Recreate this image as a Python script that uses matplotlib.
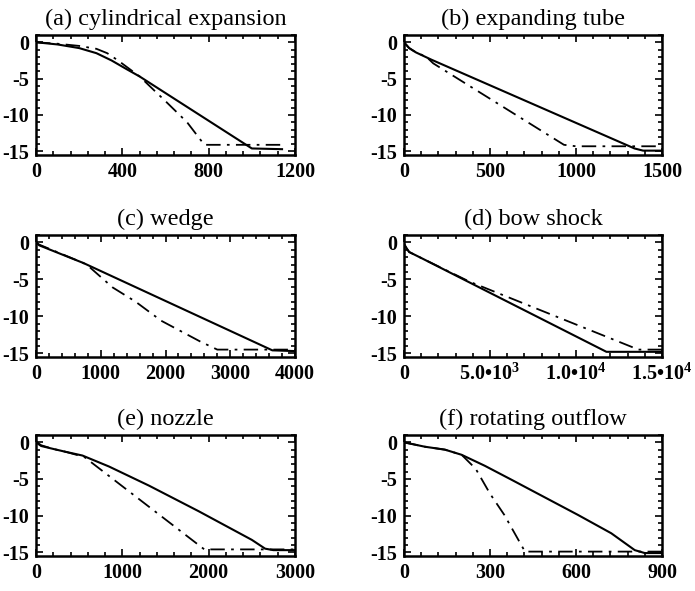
import matplotlib
matplotlib.use("Agg")
import matplotlib.pyplot as plt
from matplotlib.ticker import MultipleLocator, AutoMinorLocator

plt.rcParams['font.family'] = 'Liberation Serif'
plt.rcParams['mathtext.fontset'] = 'custom'
plt.rcParams['mathtext.rm'] = 'Liberation Serif'
plt.rcParams['mathtext.bf'] = 'Liberation Serif:bold'
plt.rcParams['mathtext.default'] = 'bf'
plt.rcParams['axes.unicode_minus'] = False

titles = ["(a) cylindrical expansion", "(b) expanding tube", "(c) wedge",
          "(d) bow shock", "(e) nozzle", "(f) rotating outflow"]

# solid curves
a_x = [0, 100, 200, 280, 350, 420, 480, 1000, 1140]
a_y = [0, -0.3, -0.8, -1.5, -2.5, -3.7, -4.7, -14.6, -14.7]
b_x = [0, 30, 70, 160, 1340, 1390, 1500]
b_y = [0, -0.8, -1.4, -2.4, -14.6, -14.9, -14.9]
c_x = [0, 50, 735, 3650, 4000]
c_y = [0, -0.4, -2.8, -14.6, -14.7]
d_x = [0, 150, 300, 1080, 11770, 15000]
d_y = [-0.2, -0.8, -1.3, -2.2, -14.8, -14.8]
e_x = [0, 60, 200, 346, 538, 846, 1308, 1885, 2500, 2654, 2750, 3000]
e_y = [0, -0.5, -0.9, -1.3, -1.8, -3.3, -5.9, -9.4, -13.3, -14.5, -14.7, -14.7]
f_x = [0, 73, 143, 201, 282, 375, 491, 607, 723, 805, 840, 900]
f_y = [0, -0.6, -1.0, -1.7, -3.2, -5.1, -7.5, -9.9, -12.4, -14.7, -15.1, -15.1]

# dash-dot curves
a2_x = [0, 100, 200, 280, 330, 380, 430, 480, 600, 700, 780, 1140]
a2_y = [0, -0.2, -0.5, -0.9, -1.5, -2.5, -3.6, -4.7, -8.1, -11.0, -14.1, -14.1]
b2_x = [0, 30, 70, 130, 170, 930, 1000, 1500]
b2_y = [0, -0.8, -1.4, -2.0, -2.9, -14.1, -14.3, -14.3]
c2_x = [0, 50, 735, 835, 1185, 1535, 1935, 2235, 2535, 2800, 4000]
c2_y = [0, -0.3, -2.8, -3.4, -6.1, -8.0, -10.6, -12.0, -13.4, -14.5, -14.5]
d2_x = [0, 150, 300, 1080, 3800, 13630, 15000]
d2_y = [-0.2, -0.8, -1.3, -2.2, -5.3, -14.5, -14.5]
e2_x = [0, 60, 200, 346, 560, 1950, 3000]
e2_y = [0.1, -0.4, -0.9, -1.3, -2.0, -14.6, -14.6]
f2_x = [0, 73, 143, 201, 250, 300, 350, 422, 900]
f2_y = [0, -0.6, -1.0, -1.7, -3.6, -7.0, -9.9, -14.9, -14.9]

solids = [(a_x, a_y), (b_x, b_y), (c_x, c_y), (d_x, d_y), (e_x, e_y), (f_x, f_y)]
dashes = [(a2_x, a2_y), (b2_x, b2_y), (c2_x, c2_y), (d2_x, d2_y), (e2_x, e2_y), (f2_x, f2_y)]

xmax = [1200, 1500, 4000, 15000, 3000, 900]
xstep = [400, 500, 1000, 5000, 1000, 300]
d_labels = ["0", "5.0\u202210$^{3}$", "1.0\u202210$^{4}$", "1.5\u202210$^{4}$"]

fig = plt.figure(figsize=(6.95, 5.91), dpi=100)
W, H = 695.0, 591.0
lefts = [36, 404]
widths = [259, 258]
rows = [(35, 155), (235, 357), (435, 556)]

for i in range(6):
    r, c = divmod(i, 2)
    top, bot = rows[r]
    ax = fig.add_axes([lefts[c] / W, (H - bot) / H, widths[c] / W, (bot - top) / H])
    ax.plot(solids[i][0], solids[i][1], color='black', lw=1.5)
    ax.plot(dashes[i][0], dashes[i][1], color='black', lw=1.3,
            linestyle=(0, (8, 3.5, 1.5, 3.5)))
    ax.set_xlim(0, xmax[i])
    ax.set_ylim(-15.5, 1)
    ax.xaxis.set_major_locator(MultipleLocator(xstep[i]))
    ax.xaxis.set_minor_locator(AutoMinorLocator(5))
    ax.set_yticks([0, -5, -10, -15])
    ax.yaxis.set_minor_locator(MultipleLocator(1))
    if i == 3:
        ax.set_xticks([0, 5000, 10000, 15000])
        ax.set_xticklabels(d_labels)
    ax.tick_params(which='both', direction='in', top=True, right=True,
                   labelsize=14.5, width=1.2)
    ax.tick_params(which='major', length=5, pad=5)
    ax.tick_params(which='minor', length=3)
    for lab in ax.get_xticklabels() + ax.get_yticklabels():
        lab.set_fontweight('bold')
    for sp in ax.spines.values():
        sp.set_linewidth(1.8)
    ax.set_title(titles[i], fontsize=17.5, pad=7)

fig.savefig("out.png", dpi=100)
